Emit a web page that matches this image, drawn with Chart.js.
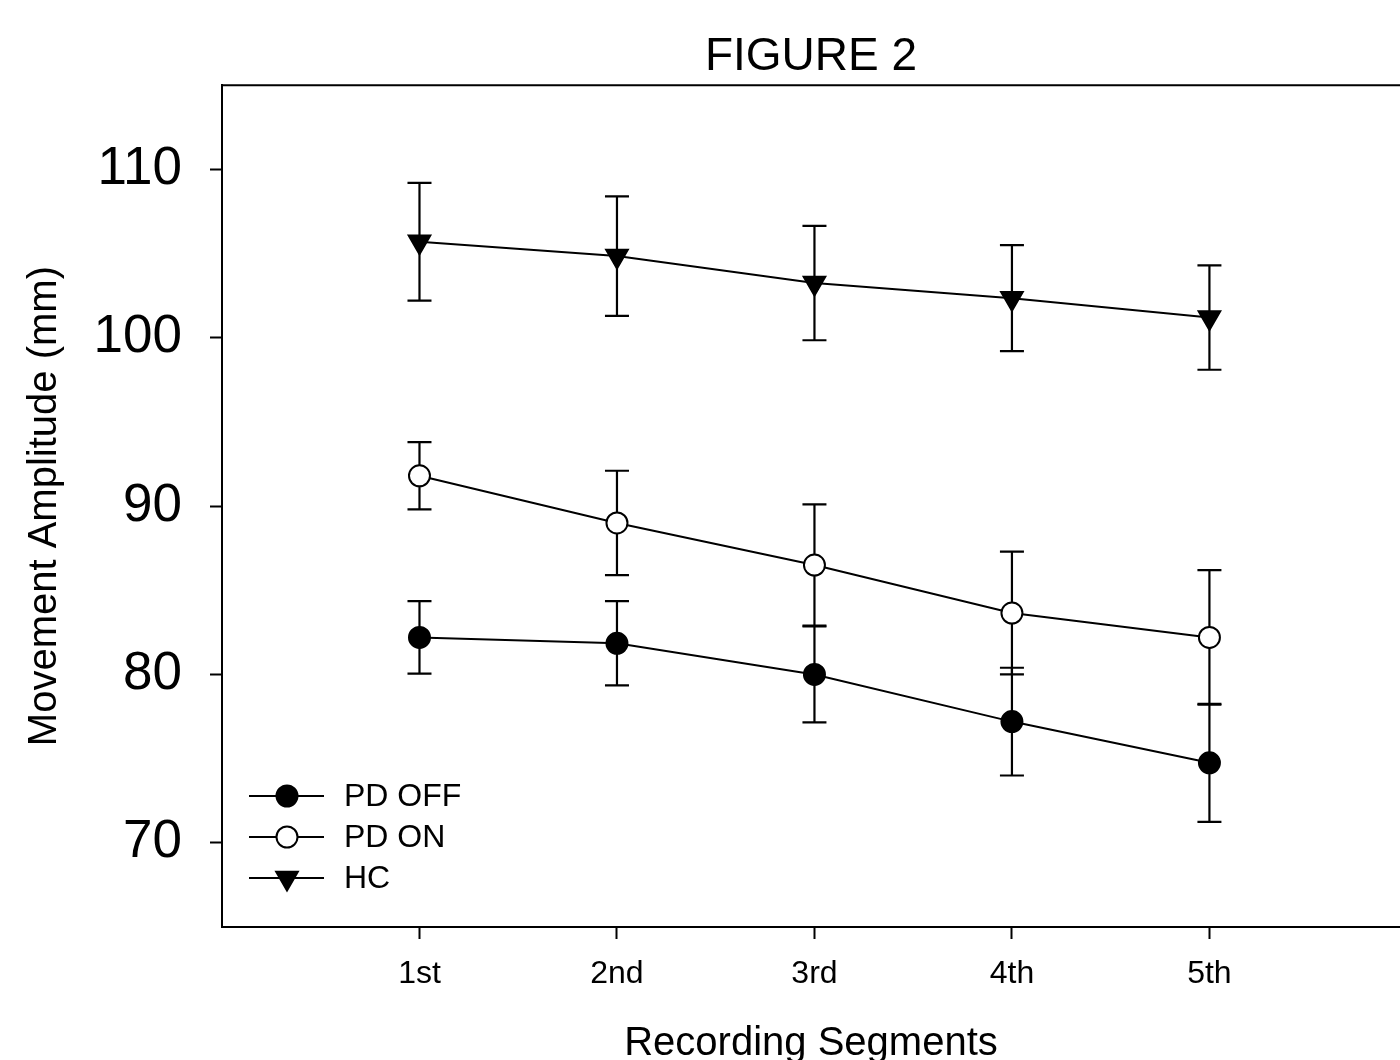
<!DOCTYPE html>
<html>
<head>
<meta charset="utf-8">
<title>FIGURE 2</title>
<script src="https://cdn.jsdelivr.net/npm/chart.js@4.4.1/dist/chart.umd.min.js"></script>
<style>
  html, body { margin: 0; padding: 0; background: #fff; overflow: hidden; }
  #chart { display: block; }
</style>
</head>
<body>
<canvas id="chart" width="1400" height="1060"></canvas>
<script>
// --- DATA ---
const segments = ['1st', '2nd', '3rd', '4th', '5th'];
const yTicks = [70, 80, 90, 100, 110];

const seriesNames = ['PD OFF', 'PD ON', 'HC'];
const pdOffMean = [82.2, 81.85, 80.0, 77.2, 74.75];
const pdOffErr  = [2.15, 2.5, 2.85, 3.2, 3.5];
const pdOnMean  = [91.8, 89.0, 86.5, 83.65, 82.2];
const pdOnErr   = [2.0, 3.1, 3.6, 3.65, 4.0];
const hcMean    = [105.7, 104.85, 103.25, 102.35, 101.2];
const hcErr     = [3.5, 3.55, 3.4, 3.15, 3.1];

// --- STYLE ---
const FONT = "'Liberation Sans', Arial, Helvetica, sans-serif";
Chart.defaults.font.family = FONT;
Chart.defaults.color = '#000';

const toPoints = (means) => means.map((v, i) => ({ x: i + 1, y: v }));

const getDataset = (label, means, errs, style) => ({
    label: label,
    data: toPoints(means),
    errors: errs,
    borderColor: '#000',
    borderWidth: 2,
    fill: false,
    tension: 0,
    pointStyle: style.pointStyle,
    pointRotation: style.rotation || 0,
    pointRadius: style.radius,
    pointHoverRadius: style.radius,
    pointBorderWidth: 2,
    pointBorderColor: '#000',
    pointBackgroundColor: style.fill,
});

// error bars, drawn under the lines and markers
const errorBars = {
    id: 'errorBars',
    beforeDatasetsDraw(chart) {
        const ctx = chart.ctx;
        const yScale = chart.scales.y;
        const capHalf = 12;
        ctx.save();
        ctx.strokeStyle = '#000';
        ctx.lineWidth = 2.2;
        chart.data.datasets.forEach((ds, di) => {
            const meta = chart.getDatasetMeta(di);
            meta.data.forEach((pt, i) => {
                const v = ds.data[i].y, e = ds.errors[i];
                const yTop = yScale.getPixelForValue(v + e);
                const yBot = yScale.getPixelForValue(v - e);
                ctx.beginPath();
                ctx.moveTo(pt.x, yTop); ctx.lineTo(pt.x, yBot);
                ctx.moveTo(pt.x - capHalf, yTop); ctx.lineTo(pt.x + capHalf, yTop);
                ctx.moveTo(pt.x - capHalf, yBot); ctx.lineTo(pt.x + capHalf, yBot);
                ctx.stroke();
            });
        });
        ctx.restore();
    }
};

// top frame line + legend inside the lower left corner
const frameAndLegend = {
    id: 'frameAndLegend',
    afterDraw(chart) {
        const ctx = chart.ctx;
        const area = chart.chartArea;
        ctx.save();
        ctx.strokeStyle = '#000';
        ctx.lineWidth = 2;
        ctx.beginPath();
        ctx.moveTo(area.left - 1, area.top);
        ctx.lineTo(area.right, area.top);
        ctx.stroke();

        const x0 = area.left + 27, x1 = area.left + 102, xm = area.left + 65;
        const firstRow = area.bottom - 131, rowGap = 41;
        ctx.font = '32px ' + FONT;
        ctx.textBaseline = 'middle';
        ctx.textAlign = 'left';
        chart.data.datasets.forEach((ds, i) => {
            const y = firstRow + i * rowGap;
            ctx.strokeStyle = '#000';
            ctx.lineWidth = 2;
            ctx.beginPath();
            ctx.moveTo(x0, y); ctx.lineTo(x1, y);
            ctx.stroke();
            ctx.fillStyle = ds.pointBackgroundColor;
            Chart.helpers.drawPoint(ctx, {
                pointStyle: ds.pointStyle,
                rotation: ds.pointRotation,
                radius: ds.pointRadius,
                borderWidth: ds.pointBorderWidth
            }, xm, y);
            ctx.fillStyle = '#000';
            ctx.fillText(ds.label, area.left + 122, y + 1);
        });
        ctx.restore();
    }
};

new Chart(document.getElementById('chart'), {
    type: 'line',
    data: {
        datasets: [
            getDataset(seriesNames[0], pdOffMean, pdOffErr, { pointStyle: 'circle', radius: 10.5, fill: '#000' }),
            getDataset(seriesNames[1], pdOnMean, pdOnErr, { pointStyle: 'circle', radius: 10.5, fill: '#fff' }),
            getDataset(seriesNames[2], hcMean, hcErr, { pointStyle: 'triangle', rotation: 180, radius: 12.5, fill: '#000' }),
        ]
    },
    options: {
        responsive: false,
        animation: false,
        devicePixelRatio: 1,
        layout: { padding: 0, autoPadding: false },
        plugins: {
            legend: { display: false },
            tooltip: { enabled: false },
            title: {
                display: true,
                text: 'FIGURE 2',
                fullSize: false,
                font: { size: 46, weight: 'normal' },
                color: '#000',
                padding: { top: 30, bottom: 0 }
            }
        },
        scales: {
            x: {
                type: 'linear',
                min: 0,
                max: 5.965,
                afterBuildTicks: (scale) => { scale.ticks = segments.map((s, i) => ({ value: i + 1 })); },
                afterFit: (scale) => { scale.height = 133; },
                ticks: {
                    callback: (value, index) => segments[index],
                    font: { size: 32 },
                    color: '#000',
                    padding: 16,
                    maxRotation: 0,
                    autoSkip: false
                },
                grid: { drawOnChartArea: false, drawTicks: true, tickLength: 12, tickWidth: 2, tickColor: '#000' },
                border: { display: true, width: 2, color: '#000' },
                title: {
                    display: true,
                    text: 'Recording Segments',
                    font: { size: 40 },
                    color: '#000',
                    padding: { top: 0, bottom: -8 }
                }
            },
            y: {
                type: 'linear',
                min: 65,
                max: 115,
                afterBuildTicks: (scale) => { scale.ticks = yTicks.map(v => ({ value: v })); },
                afterFit: (scale) => { scale.width = 222; },
                ticks: {
                    font: { size: 53 },
                    color: '#000',
                    padding: 28
                },
                grid: { drawOnChartArea: false, drawTicks: true, tickLength: 12, tickWidth: 2, tickColor: '#000' },
                border: { display: true, width: 2, color: '#000' },
                title: {
                    display: true,
                    text: 'Movement Amplitude (mm)',
                    font: { size: 40 },
                    color: '#000',
                    padding: { top: 21, bottom: 0 }
                }
            }
        }
    },
    plugins: [errorBars, frameAndLegend]
});
</script>
</body>
</html>
